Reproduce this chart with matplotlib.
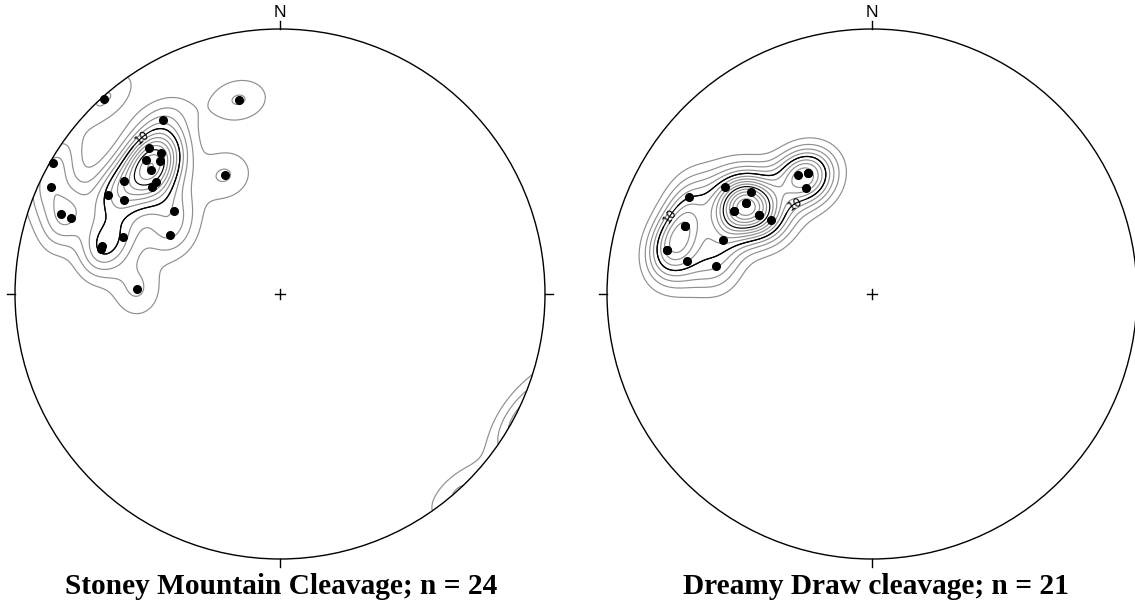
import numpy as np
import matplotlib
matplotlib.use("Agg")
import matplotlib.pyplot as plt
from matplotlib.patches import Circle

# ---- data: poles to cleavage (trend, plunge in degrees) ----
stoney_trend = [318, 348, 326, 318, 320, 315, 318, 314, 335, 300, 306, 312,
                310, 295, 300, 301, 290, 290, 308, 290, 298, 285, 284, 272]
stoney_plunge = [1, 26, 22, 27, 31, 29, 33, 33, 49, 1, 28, 37,
                 37, 5, 26, 32, 13, 17, 48, 37, 51, 31, 31, 45]

dreamy_trend = [298, 306, 310, 306, 306, 301, 301, 305, 305, 306, 328, 332,
                332, 328, 290, 290, 290, 282, 282, 280, 280]
dreamy_plunge = [23, 32, 40, 41, 41, 39, 39, 47, 47, 51, 46, 47,
                 47, 51, 26, 26, 40, 22, 22, 30, 40]

titles = ['Stoney Mountain Cleavage; n = 24', 'Dreamy Draw cleavage; n = 21']
label_level = 10
contour_step = 2

W, H = 1135, 605
fig = plt.figure(figsize=(W/100, H/100), dpi=100)


def to_vec(tr, pl):
    tr = np.radians(tr); pl = np.radians(pl)
    return np.column_stack([np.cos(pl)*np.sin(tr), np.cos(pl)*np.cos(tr), np.sin(pl)])


def project(tr, pl):
    # Lambert equal-area (Schmidt), lower hemisphere
    v = to_vec(tr, pl)
    r = np.sqrt(np.clip(1 - v[:, 2], 0, None))
    h = np.hypot(v[:, 0], v[:, 1]); h[h == 0] = 1
    return r*v[:, 0]/h, r*v[:, 1]/h


def draw(ax, tr, pl, label_pos, k=100):
    tr = np.asarray(tr, float); pl = np.asarray(pl, float)
    g = np.linspace(-1.06, 1.06, 531)
    X, Y = np.meshgrid(g, g)
    r = np.hypot(X, Y)
    z = 1 - r**2
    hz = np.sqrt(np.clip(1 - z**2, 0, None))
    rr = np.where(r == 0, 1, r)
    G = np.stack([hz*X/rr, hz*Y/rr, z], axis=-1)
    V = to_vec(tr, pl)
    c = np.abs(G @ V.T)
    D = k*np.exp(k*(c-1)).mean(axis=-1)
    levels = np.arange(contour_step, D.max(), contour_step)
    cols = ['black' if lv % 10 == 0 else '#8f8f8f' for lv in levels]
    circ = Circle((0, 0), 1, transform=ax.transData, facecolor='none', edgecolor='none')
    ax.add_patch(circ)
    cs = ax.contour(X, Y, D, levels=levels, colors=cols, linewidths=0.85)
    cs.set_clip_path(circ)
    lab = ax.contour(X, Y, D, levels=[label_level], colors='black', linewidths=0.85)
    lab.set_clip_path(circ)
    ax.clabel(lab, fmt='%d', fontsize=8.5, inline=True, manual=label_pos)
    x, y = project(tr, pl)
    ax.plot(x, y, 'o', color='black', markersize=5.5, zorder=5)
    ax.add_patch(Circle((0, 0), 1, facecolor='none', edgecolor='black', linewidth=1.0, zorder=6))
    t = 0.032
    for (x0, y0, x1, y1) in [(0, 1, 0, 1+t), (0, -1, 0, -1-t), (-1, 0, -1-t, 0), (1, 0, 1+t, 0)]:
        ax.plot([x0, x1], [y0, y1], color='black', lw=1.0)
    s = 0.02
    ax.plot([-s, s], [0, 0], color='black', lw=1.0)
    ax.plot([0, 0], [-s, s], color='black', lw=1.0)
    ax.text(0, 1.035, 'N', ha='center', va='bottom', fontsize=12.5, family='Liberation Sans')


L = 1.12
R = 265


def make_ax(cx, cy):
    half = L*R
    ax = fig.add_axes([(cx-half)/W, (H-cy-half)/H, 2*half/W, 2*half/H])
    ax.set_xlim(-L, L); ax.set_ylim(-L, L)
    ax.set_aspect('equal'); ax.axis('off')
    return ax


ax1 = make_ax(280, 294)
draw(ax1, stoney_trend, stoney_plunge, [(-0.52, 0.59)])
ax2 = make_ax(872, 294)
draw(ax2, dreamy_trend, dreamy_plunge, [(-0.77, 0.30), (-0.29, 0.34)])

fig.text(281/W, 1-586/H, titles[0], ha='center', va='center',
         fontsize=21.2, fontweight='bold', family='Liberation Serif')
fig.text(876/W, 1-586/H, titles[1], ha='center', va='center',
         fontsize=21.2, fontweight='bold', family='Liberation Serif')

fig.savefig('out.png', dpi=100)
